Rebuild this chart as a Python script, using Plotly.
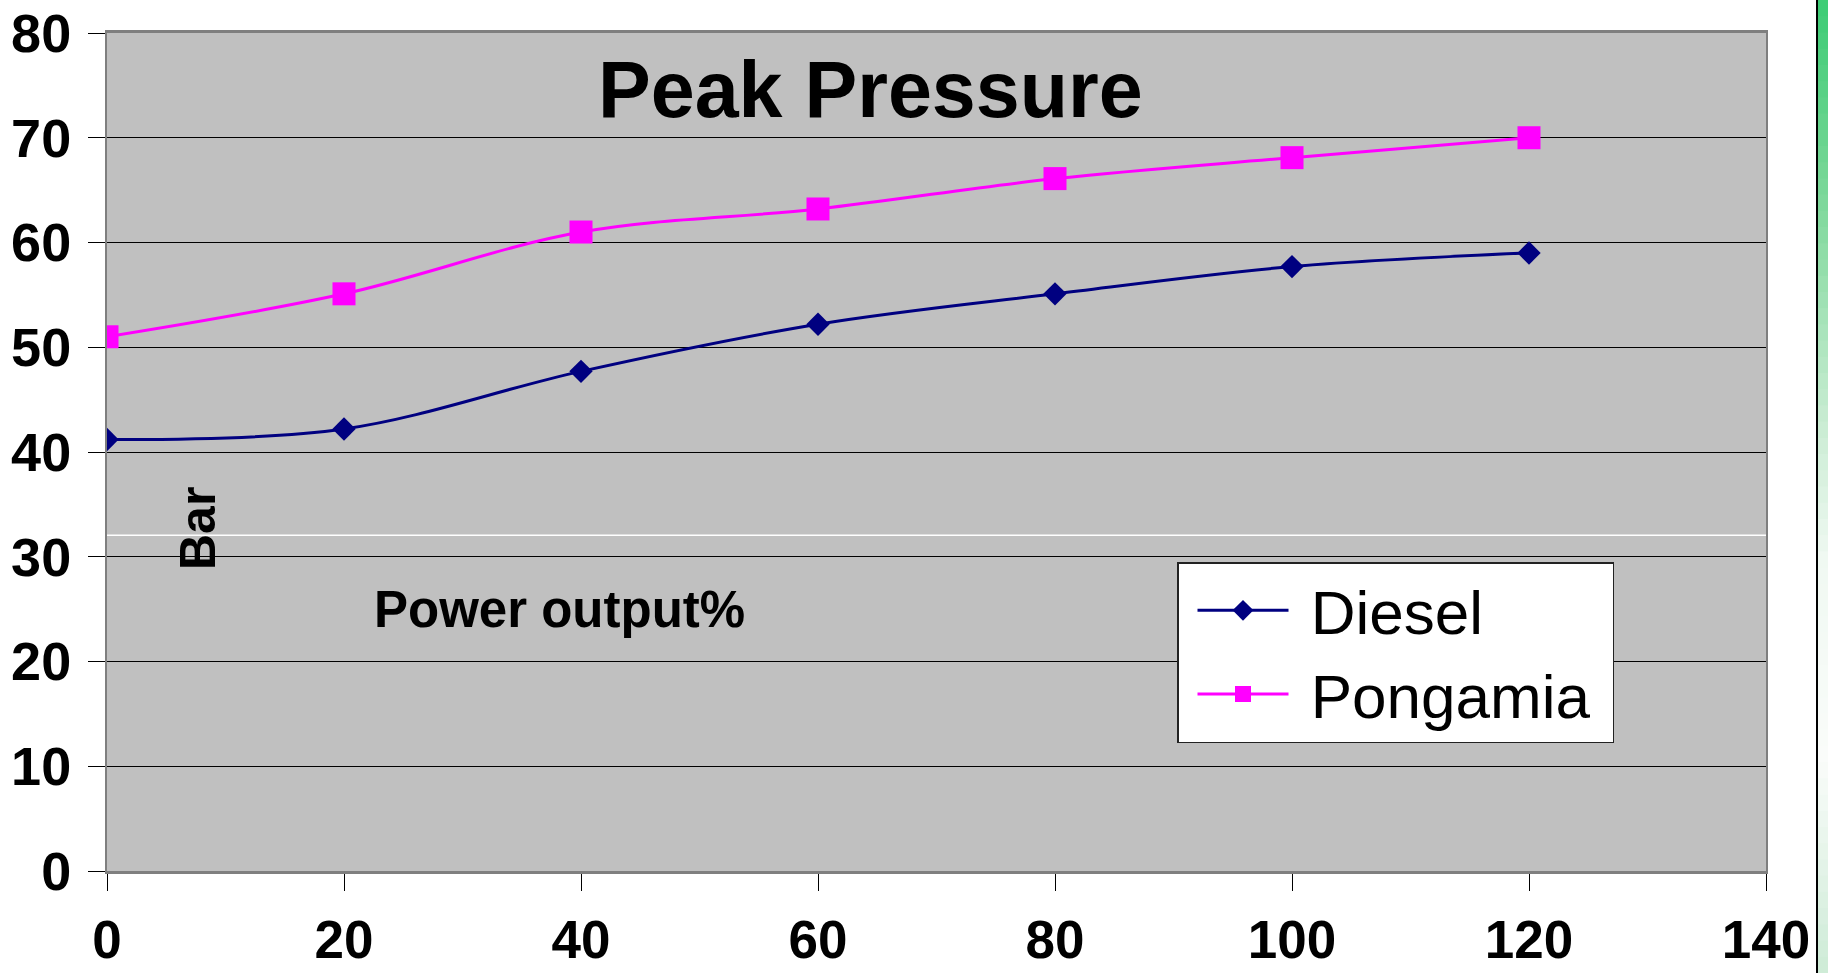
import plotly.graph_objects as go

# ---- data ----
power_output = [0, 20, 40, 60, 80, 100, 120]
diesel = [41.2, 42.2, 47.7, 52.2, 55.1, 57.7, 59.0]
pongamia = [51.0, 55.1, 61.0, 63.2, 66.1, 68.1, 70.0]
x_ticks = [0, 20, 40, 60, 80, 100, 120, 140]
y_ticks = [0, 10, 20, 30, 40, 50, 60, 70, 80]

W, H = 1828, 973
L, R, T, B = 107, 1766, 33, 871  # plot area pixels

def px_x(p):
    return (p - L) / (R - L)

def px_y(p):
    return (B - p) / (B - T)

FONT = "Liberation Sans, Arial, sans-serif"
NBSP = "\u00a0"

fig = go.Figure()
fig.add_trace(go.Scatter(
    x=power_output, y=diesel, name=NBSP + "Diesel" + NBSP, mode="lines+markers",
    line=dict(color="#000080", width=3, shape="spline", smoothing=1.0),
    marker=dict(symbol="diamond", size=18, color="#000080"),
))
fig.add_trace(go.Scatter(
    x=power_output, y=pongamia, name=NBSP + "Pongamia" + NBSP, mode="lines+markers",
    line=dict(color="#ff00ff", width=3, shape="spline", smoothing=1.0),
    marker=dict(symbol="square", size=23, color="#ff00ff"),
))

shapes = []
# faint white artifact line
shapes.append(dict(type="line", xref="paper", yref="y", x0=0, x1=1, y0=32.06, y1=32.06,
                   line=dict(color="white", width=1.5), layer="below"))

# right decorative green strip with gradient
def lerp(c1, c2, t):
    return tuple(int(round(a + (b - a) * t)) for a, b in zip(c1, c2))

stops = [(0, (60, 204, 116)), (200, (125, 216, 154)), (420, (200, 236, 210)),
         (560, (240, 249, 242)), (760, (250, 252, 250)), (973, (205, 235, 214))]
n = 60
for i in range(n):
    y0p = H * i / n
    y1p = H * (i + 1) / n + 1
    ym = (y0p + y1p) / 2
    c = stops[-1][1]
    for j in range(len(stops) - 1):
        if stops[j][0] <= ym <= stops[j + 1][0]:
            t = (ym - stops[j][0]) / (stops[j + 1][0] - stops[j][0])
            c = lerp(stops[j][1], stops[j + 1][1], t)
            break
    shapes.append(dict(type="rect", xref="paper", yref="paper",
                       x0=px_x(1818), x1=px_x(1830), y0=px_y(y1p), y1=px_y(y0p),
                       fillcolor="rgb(%d,%d,%d)" % c, line=dict(width=0), layer="above"))
shapes.append(dict(type="line", xref="paper", yref="paper",
                   x0=px_x(1817), x1=px_x(1817), y0=px_y(H + 2), y1=px_y(-2),
                   line=dict(color="black", width=2), layer="above"))

annotations = [
    dict(text="Peak Pressure", xref="paper", yref="paper",
         x=px_x(870), y=px_y(89), xanchor="center", yanchor="middle", showarrow=False,
         font=dict(family=FONT, size=79, color="black", weight="bold")),
    dict(text="Bar", xref="paper", yref="paper", textangle=-90,
         x=px_x(198), y=px_y(529), xanchor="center", yanchor="middle", showarrow=False,
         font=dict(family=FONT, size=50, color="black", weight="bold")),
    dict(text="Power output%", xref="paper", yref="paper",
         x=px_x(372), y=px_y(609), xanchor="left", yanchor="middle", showarrow=False,
         font=dict(family=FONT, size=51, color="black", weight="bold")),
]

fig.update_layout(
    width=W, height=H,
    margin=dict(l=L, r=W - R, t=T, b=H - B, pad=0, autoexpand=False),
    paper_bgcolor="white", plot_bgcolor="#c0c0c0",
    font=dict(family=FONT, color="black"),
    showlegend=True,
    legend=dict(x=px_x(1177), y=px_y(562), xanchor="left", yanchor="top",
                bgcolor="white", bordercolor="#222222", borderwidth=1.5,
                font=dict(family=FONT, size=62, color="black"),
                itemwidth=91, tracegroupgap=0, indentation=14),
    shapes=shapes, annotations=annotations,
    xaxis=dict(range=[0, 140], tickvals=x_ticks, ticktext=[str(v) for v in x_ticks],
               ticks="outside", ticklen=17, tickwidth=1, tickcolor="black",
               showgrid=False, zeroline=False, showline=True, linecolor="#7f7f7f",
               linewidth=3, mirror=True, ticklabelstandoff=3, automargin=False,
               tickfont=dict(family=FONT, size=53, color="black", weight="bold")),
    yaxis=dict(range=[0, 80], tickvals=y_ticks, ticktext=[str(v) for v in y_ticks],
               ticks="outside", ticklen=17, tickwidth=1, tickcolor="black",
               showgrid=True, gridcolor="black", gridwidth=1, zeroline=False,
               showline=True, linecolor="#7f7f7f", linewidth=2, mirror=True,
               ticklabelstandoff=6, automargin=False,
               tickfont=dict(family=FONT, size=54, color="black", weight="bold")),
)

fig.write_html("out.html")
